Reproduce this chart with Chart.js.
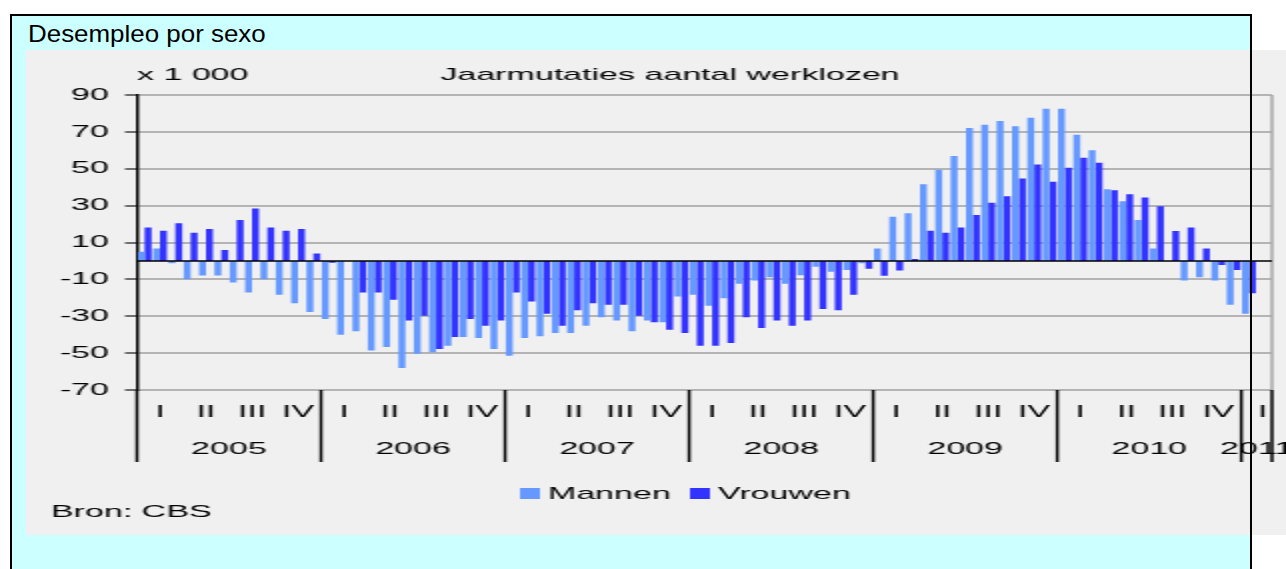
<!DOCTYPE html>
<html>
<head>
<meta charset="utf-8">
<script src="https://cdn.jsdelivr.net/npm/chart.js@4/dist/chart.umd.min.js"></script>
<style>
  body { margin: 0; background: #fff; width: 1286px; height: 569px; overflow: hidden; position: relative; }
  #frame { position: absolute; left: 10px; top: 14px; width: 1238px; height: 600px; background: #ccffff; border: 2px solid #000; }
  #title { position: absolute; left: 28px; top: 22px; font: 24px/24px "Liberation Sans", Arial, sans-serif; color: #000;
           transform: scaleX(1.08); transform-origin: left center; white-space: nowrap; }
  #panel { position: absolute; left: 26px; top: 50px; width: 1260px; height: 485px; background: #f0f0f0; }
  #panel canvas { display: block; }
  #edge { position: absolute; left: 1250px; top: 14px; width: 2px; height: 560px; background: #000; }
</style>
</head>
<body>
<div id="frame"></div>
<div id="title">Desempleo por sexo</div>
<div id="panel"><canvas id="chart" width="630" height="485" style="width:1260px;height:485px"></canvas></div>
<div id="edge"></div>
<script>
// Jaarmutaties aantal werklozen (x 1 000), monthly, Jan 2005 - Jan 2011
const years = ['2005', '2006', '2007', '2008', '2009', '2010', '2011'];
const quarters = ['I', 'II', 'III', 'IV'];
const yTicks = { min: -70, max: 90, step: 20 };

const mannen = [
  5, 6.8, -1.3, -9.9, -7.9, -7.9, -11.7, -17.1, -9.9, -18.4, -22.9, -27.7,
  -31.5, -40, -38.2, -48.6, -46.7, -58, -50.3, -49.5, -46, -41.3, -41.8, -47.7,
  -51.4, -41.8, -40.9, -39.1, -39.1, -35.1, -30.5, -32.3, -38.2, -32.3, -33.3, -19.3,
  -18.4, -24.3, -20.2, -12.4, -10.6, -8.8, -12.4, -7.7, -3.1, -5.8, -4.9, -1.3,
  6.8, 24, 25.8, 41.6, 49.5, 56.9, 72.1, 73.9, 75.9, 73, 77.7, 82.5,
  82.5, 68.5, 60, 38.9, 32.4, 22.2, 6.8, 0, -10.6, -8.8, -10.6, -23.8,
  -28.6,
];
const vrouwen = [
  18.2, 16.4, 20.4, 15.3, 17.3, 5.9, 22.2, 28.5, 18.2, 16.4, 17.3, 4.1,
  -1, 0, -17.1, -17.1, -21.1, -32.3, -29.7, -47.7, -41.3, -31.5, -35.1, -32.3,
  -17.1, -22, -28.6, -35.1, -26.8, -22.9, -23.8, -23.8, -29.7, -33.3, -37.3, -39.1,
  -46, -46, -44.5, -30.5, -36.4, -32.3, -35.1, -32.3, -26.1, -26.8, -18.4, -4.3,
  -8.1, -5.2, 1.1, 16.4, 15.3, 18.2, 24.9, 31.5, 35.1, 44.7, 52.3, 42.9,
  50.5, 56, 53.3, 38.4, 36.2, 34.4, 29.7, 16.2, 18.2, 6.8, -2.2, -4.9,
  -17.5,
];

// one category per month; the axis runs on to Feb 2011 (no data there)
const months = [];
years.forEach((yr) => {
  const n = yr === '2011' ? 2 : 12;
  for (let m = 1; m <= n; m++) months.push(`${yr}-${String(m).padStart(2, '0')}`);
});

const LIGHT = '#6699ff';
const DARK = '#3333ff';
const FONT = '17px "Liberation Sans", Arial, sans-serif';

// canvas is drawn at half width and stretched 2x by CSS, like the original image
const deco = {
  id: 'deco',
  afterDatasetsDraw(chart) {
    const { ctx, chartArea: a, scales: { x, y } } = chart;
    const line = (x1, y1, x2, y2) => { ctx.beginPath(); ctx.moveTo(x1, y1); ctx.lineTo(x2, y2); ctx.stroke(); };
    ctx.save();

    ctx.strokeStyle = '#a8a8a8';
    ctx.lineWidth = 1.5;
    line(a.right, a.top, a.right, a.bottom);

    ctx.strokeStyle = '#000';
    const y0 = y.getPixelForValue(0);
    line(a.left, y0, a.right, y0);

    // year separators below the plot
    const yearStart = [];
    let idx = 0;
    years.forEach((yr) => { yearStart.push(idx); idx += yr === '2011' ? 2 : 12; });
    yearStart.push(months.length);
    yearStart.forEach((k) => {
      const px = x.getPixelForValue(k - 0.5);
      line(px, a.bottom, px, a.bottom + 72);
    });

    ctx.fillStyle = '#000';
    ctx.font = FONT;
    ctx.textBaseline = 'middle';
    ctx.textAlign = 'center';
    years.forEach((yr, i) => {
      const s = yearStart[i], e = yearStart[i + 1];
      const cx = (x.getPixelForValue(s - 0.5) + x.getPixelForValue(e - 0.5)) / 2;
      ctx.fillText(yr, cx, a.bottom + 59);
      if (e - s === 12) {
        quarters.forEach((q, qi) => ctx.fillText(q, x.getPixelForValue(s + qi * 3 + 1), a.bottom + 22));
      } else {
        ctx.fillText(quarters[0], cx + 3, a.bottom + 22);
      }
    });

    ctx.textAlign = 'left';
    ctx.fillText('x 1 000', a.left, 25);
    ctx.textAlign = 'center';
    ctx.fillText('Jaarmutaties aantal werklozen', 322, 25);

    // legend
    ctx.textAlign = 'left';
    [['Mannen', LIGHT, 247], ['Vrouwen', DARK, 332]].forEach(([name, col, lx]) => {
      ctx.fillStyle = col;
      ctx.fillRect(lx, 438, 10, 11);
      ctx.fillStyle = '#000';
      ctx.fillText(name, lx + 14, 444);
    });

    ctx.fillText('Bron: CBS', 12.5, 462);
    ctx.restore();
  },
};

new Chart(document.getElementById('chart'), {
  type: 'bar',
  data: {
    labels: months,
    datasets: [
      { label: 'Mannen', data: mannen, backgroundColor: LIGHT, borderWidth: 0 },
      { label: 'Vrouwen', data: vrouwen, backgroundColor: DARK, borderWidth: 0 },
    ],
  },
  options: {
    responsive: false,
    devicePixelRatio: 1,
    animation: false,
    categoryPercentage: 0.9,
    barPercentage: 1,
    layout: { padding: { left: 0, top: 45, right: 7, bottom: 145 } },
    plugins: { legend: { display: false }, tooltip: { enabled: false } },
    scales: {
      x: {
        offset: true,
        grid: { display: false, drawTicks: false },
        border: { display: false },
        ticks: { display: false },
        afterFit: (s) => { s.height = 0; },
      },
      y: {
        min: yTicks.min,
        max: yTicks.max,
        afterFit: (s) => { s.width = 55.5; },
        ticks: { stepSize: yTicks.step, color: '#000', padding: 8, font: { family: '"Liberation Sans", Arial, sans-serif', size: 17 } },
        grid: { color: '#b4b4b4', lineWidth: 2, tickLength: 6, tickColor: '#444', tickWidth: 1.5 },
        border: { color: '#000', width: 1.5 },
      },
    },
  },
  plugins: [deco],
});
</script>
</body>
</html>
